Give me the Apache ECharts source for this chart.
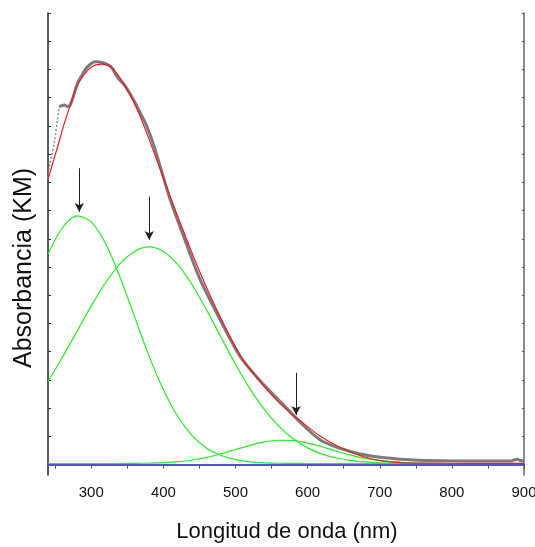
<!DOCTYPE html>
<html>
<head>
<meta charset="utf-8">
<script src="https://cdn.jsdelivr.net/npm/echarts@6/dist/echarts.min.js"></script>
<style>
  html, body { margin: 0; padding: 0; background: #fff; }
  #main { width: 535px; height: 547px; }
</style>
</head>
<body>
<div id="main"></div>
<script>
// wavelength grid (nm) used by the fitted bands
var bandNm = [240, 260, 280, 300, 320, 340, 360, 380, 400, 420, 440, 460, 480, 500, 520, 540, 560, 580, 600, 620, 640, 660, 680, 700, 750, 800, 850, 900];
var band1 = [7.45, 8.39, 8.81, 8.60, 7.82, 6.63, 5.24, 3.85, 2.65, 1.70, 1.02, 0.58, 0.32, 0.17, 0.095, 0.06, 0.045, 0.04, 0.035, 0.035, 0.035, 0.035, 0.035, 0.035, 0.035, 0.035, 0.035, 0.035];
var band2 = [2.94, 3.80, 4.71, 5.62, 6.45, 7.12, 7.55, 7.71, 7.55, 7.08, 6.36, 5.47, 4.50, 3.55, 2.68, 1.95, 1.36, 0.91, 0.59, 0.37, 0.23, 0.14, 0.09, 0.06, 0.04, 0.035, 0.035, 0.035];
var band3 = [0.035, 0.035, 0.035, 0.035, 0.035, 0.035, 0.04, 0.049, 0.067, 0.10, 0.16, 0.25, 0.38, 0.53, 0.68, 0.80, 0.86, 0.85, 0.76, 0.63, 0.47, 0.33, 0.22, 0.14, 0.05, 0.035, 0.035, 0.035];

// fitted envelope (red)
var fitNm = [240.5, 253.3, 262.6, 271.8, 278.8, 287.9, 299.6, 313.5, 327.3, 341.2, 357.3, 370, 386.4, 409.6, 430, 451.2, 478.9, 506.7, 534.4, 562.1, 589.9, 617.6, 645.4, 673.1, 700.8, 728.6, 760, 800, 850, 900];
var fitVal = [10.15, 11.26, 12.09, 12.80, 13.33, 13.74, 14.08, 14.19, 14.08, 13.65, 12.93, 12.2, 11.1, 9.49, 8.13, 6.78, 5.22, 3.86, 2.93, 2.15, 1.55, 1.0, 0.6, 0.31, 0.14, 0.07, 0.05, 0.045, 0.04, 0.04];

// measured spectrum (gray): dotted start, then the solid trace
var expNmStart = [239.4, 243, 248.7, 252.5, 255.6];
var expValStart = [10.14, 10.7, 11.4, 12.1, 12.68];
var expNm = [255.6, 262.6, 267.1, 271.8, 281, 285.7, 294.9, 306.5, 315.7, 327.3, 336.4, 345.8, 357.3, 368, 377.3, 388.8, 409.6, 430, 451.2, 478.9, 506.7, 534.4, 562.1, 589.9, 617.6, 645.4, 673.1, 700.8, 746.6, 793.8, 839.5, 881.2, 887, 891, 895, 900];
var expVal = [12.68, 12.74, 12.68, 12.80, 13.51, 13.74, 14.10, 14.27, 14.24, 14.10, 13.72, 13.45, 12.98, 12.46, 11.97, 11.14, 9.37, 7.95, 6.54, 5.12, 3.82, 2.96, 2.23, 1.49, 0.87, 0.57, 0.37, 0.26, 0.16, 0.13, 0.12, 0.12, 0.17, 0.19, 0.14, 0.12];

var baseNm = [240, 900];
var baseVal = [-0.02, -0.02];

// arrows: [nm, from, to]
var arrows = [[283.4, 10.50, 8.95], [380.4, 9.49, 7.96], [584, 3.25, 1.75]];

var xTicks = [250, 300, 350, 400, 450, 500, 550, 600, 650, 700, 750, 800, 850, 900];
var xLabels = [300, 400, 500, 600, 700, 800, 900];
var yTicks = [0, 1, 2, 3, 4, 5, 6, 7, 8, 9, 10, 11, 12, 13, 14, 15, 16];

function zip(a, b) {
  return a.map(function (v, i) { return [v, b[i]]; });
}

var chart = echarts.init(document.getElementById('main'), null, { renderer: 'canvas' });

var font = 'Liberation Sans, Arial, sans-serif';

function lineSeries(data, color, width, extra) {
  var s = {
    type: 'line',
    data: data,
    showSymbol: false,
    symbol: 'none',
    smooth: 0.3,
    silent: true,
    animation: false,
    lineStyle: { color: color, width: width }
  };
  for (var k in extra) s[k] = extra[k];
  return s;
}

var option = {
  backgroundColor: '#fff',
  animation: false,
  grid: { left: 48, right: 11, top: 13, bottom: 72, outerBoundsMode: 'none', containLabel: false },
  graphic: [
    {
      type: 'text', x: 24, y: 268, rotation: Math.PI / 2, silent: true,
      style: { text: 'Absorbancia (KM)', font: '25px ' + font, fill: '#111', align: 'center', verticalAlign: 'middle' }
    },
    {
      type: 'text', x: 287, y: 532, silent: true,
      style: { text: 'Longitud de onda (nm)', font: '22px ' + font, fill: '#111', align: 'center', verticalAlign: 'middle' }
    }
  ],
  xAxis: [
    {
      type: 'value', position: 'bottom', min: 240, max: 900,
      axisLine: { lineStyle: { color: '#222', width: 1.5 } },
      axisTick: { customValues: xTicks, inside: false, length: 4, lineStyle: { color: '#333' } },
      axisLabel: { customValues: xLabels, fontSize: 15, color: '#111', fontFamily: font, margin: 10 },
      splitLine: { show: false }
    },
    {
      type: 'value', position: 'top', min: 240, max: 900,
      axisLine: { lineStyle: { color: '#666', width: 1.5 } },
      axisTick: { customValues: xTicks, inside: true, length: 3, lineStyle: { color: '#555' } },
      axisLabel: { show: false },
      splitLine: { show: false }
    }
  ],
  yAxis: [
    {
      type: 'value', position: 'left', min: -0.372, max: 16,
      axisLine: { show: true, lineStyle: { color: '#222', width: 1.5 } },
      axisTick: { show: true, customValues: yTicks, inside: true, length: 3, lineStyle: { color: '#333' } },
      axisLabel: { show: false },
      splitLine: { show: false }
    },
    {
      type: 'value', position: 'right', min: -0.372, max: 16,
      axisLine: { show: true, lineStyle: { color: '#666', width: 1.5 } },
      axisTick: { show: true, customValues: yTicks, inside: true, length: 2, lineStyle: { color: '#555' } },
      axisLabel: { show: false },
      splitLine: { show: false }
    }
  ],
  series: [
    lineSeries(zip(bandNm, band1), '#22ee22', 1.2),
    lineSeries(zip(bandNm, band2), '#22ee22', 1.2),
    lineSeries(zip(bandNm, band3), '#22ee22', 1.2),
    lineSeries(zip(expNmStart, expValStart), '#888', 1.5, { lineStyle: { color: '#888', width: 1.5, type: [2, 2] } }),
    lineSeries(zip(expNm, expVal), '#7b7b7b', 3),
    lineSeries(zip(fitNm, fitVal), '#ee1c1c', 1.2),
    lineSeries(zip(baseNm, baseVal), '#5050e6', 1.5, {
      smooth: false,
      markLine: {
        silent: true,
        animation: false,
        symbol: ['none', 'arrow'],
        symbolSize: [7, 9],
        label: { show: false },
        lineStyle: { color: '#222', width: 1, type: 'solid' },
        data: arrows.map(function (a) {
          return [{ coord: [a[0], a[1]] }, { coord: [a[0], a[2]] }];
        })
      }
    })
  ]
};

chart.setOption(option);
</script>
</body>
</html>
